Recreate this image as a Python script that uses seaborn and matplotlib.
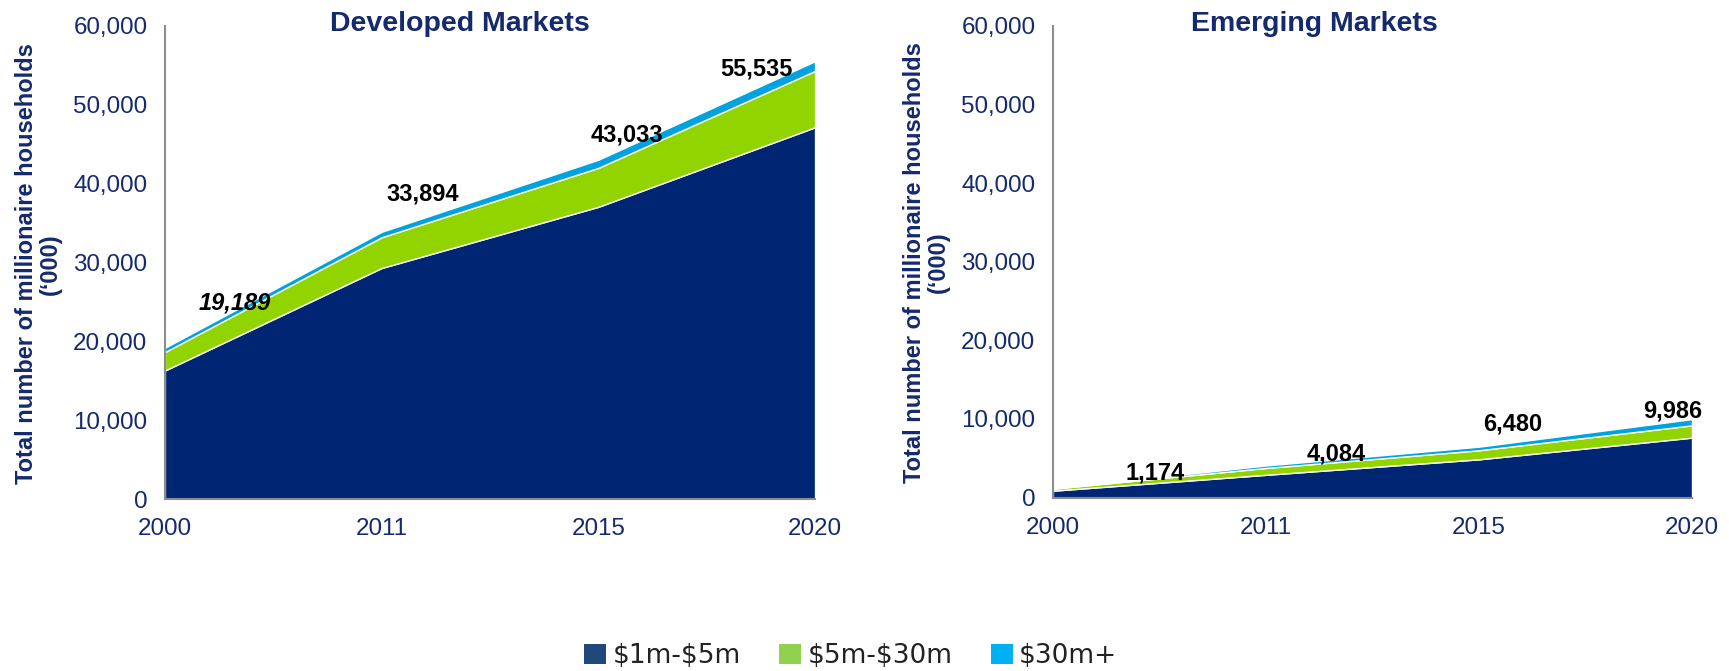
import matplotlib
matplotlib.use("Agg")
import matplotlib.pyplot as plt
import matplotlib.patches as mpatches
import matplotlib.ticker as mticker
import numpy as np
import seaborn as sns

# data (thousands of households)
years = ["2000", "2011", "2015", "2020"]
series_names = [r"\$1m-\$5m", r"\$5m-\$30m", r"\$30m+"]

dev_1m_5m = [16300, 29300, 37060, 47150]
dev_5m_30m = [2340, 3900, 4940, 7150]
dev_30m_plus = [549, 694, 1033, 1235]
dev_totals = [19189, 33894, 43033, 55535]

em_1m_5m = [880, 2900, 4870, 7630]
em_5m_30m = [250, 870, 1150, 1560]
em_30m_plus = [44, 314, 460, 796]
em_totals = [1174, 4084, 6480, 9986]

# where the total labels sit (x in category index, y in data units)
dev_label_pos = [(0.32, 24900), (1.19, 38700), (2.13, 46200), (2.73, 54500)]
em_label_pos = [(0.48, 3150), (1.33, 5600), (2.16, 9350), (2.91, 11080)]

area_colors = ["#002673", "#92D400", "#00A3E0"]
legend_colors = ["#1F497D", "#92D050", "#00B0F0"]
navy = "#15296E"
spine_gray = "#8C8C8C"

sns.set_style("white")
plt.rcParams["font.family"] = ["Liberation Sans", "DejaVu Sans"]

fig = plt.figure(figsize=(17.29, 6.71), dpi=100)
ax_dev = fig.add_axes([0.0954, 0.2563, 0.376, 0.705])
ax_em = fig.add_axes([0.609, 0.2584, 0.3696, 0.703])


def draw_panel(ax, layers, totals, label_pos, italic_first=False):
    x = np.arange(len(years))
    ax.stackplot(x, *layers, colors=area_colors, edgecolor="white", linewidth=1.0)
    ax.set_xlim(0, len(years) - 1)
    ax.set_ylim(0, 60000)
    ax.set_xticks(x)
    ax.set_xticklabels(years)
    ax.yaxis.set_major_locator(mticker.MultipleLocator(10000))
    ax.yaxis.set_major_formatter(mticker.FuncFormatter(lambda v, p: f"{int(v):,}"))
    sns.despine(ax=ax)
    for side in ["left", "bottom"]:
        ax.spines[side].set_color(spine_gray)
        ax.spines[side].set_linewidth(1.5)
    ax.tick_params(axis="both", which="major", direction="out", length=5.7, width=1.2,
                   color=spine_gray, labelsize=17.4, labelcolor=navy, pad=7)
    ax.tick_params(axis="x", pad=8)
    ax.grid(False)
    for i, (tot, (px, py)) in enumerate(zip(totals, label_pos)):
        style = "italic" if (italic_first and i == 0) else "normal"
        ax.text(px, py, f"{tot:,}", ha="center", va="center", fontsize=17,
                fontweight="bold", fontstyle=style, color="black")


draw_panel(ax_dev, [dev_1m_5m, dev_5m_30m, dev_30m_plus], dev_totals, dev_label_pos,
           italic_first=True)
draw_panel(ax_em, [em_1m_5m, em_5m_30m, em_30m_plus], em_totals, em_label_pos)

fig.text(0.266, 0.964, "Developed Markets", ha="center", va="center",
         fontsize=20.5, fontweight="bold", color=navy)
fig.text(0.760, 0.964, "Emerging Markets", ha="center", va="center",
         fontsize=20.5, fontweight="bold", color=navy)

ylab = "Total number of millionaire households\n(\u2018000)"
fig.text(0.022, 0.607, ylab, ha="center", va="center", rotation=90,
         multialignment="center", fontsize=17, fontweight="bold", color=navy,
         linespacing=1.05)
fig.text(0.536, 0.609, ylab, ha="center", va="center", rotation=90,
         multialignment="center", fontsize=17, fontweight="bold", color=navy,
         linespacing=1.05)

handles = [mpatches.Patch(facecolor=c, edgecolor="none", label=n)
           for c, n in zip(legend_colors, series_names)]
fig.legend(handles=handles, loc="center", bbox_to_anchor=(0.492, 0.022), ncol=3,
           frameon=False, prop={"family": "DejaVu Sans", "size": 19},
           handlelength=0.83, handleheight=0.83, handletextpad=0.25,
           columnspacing=1.45, labelcolor="#222222")

fig.savefig("out.png", dpi=100)
